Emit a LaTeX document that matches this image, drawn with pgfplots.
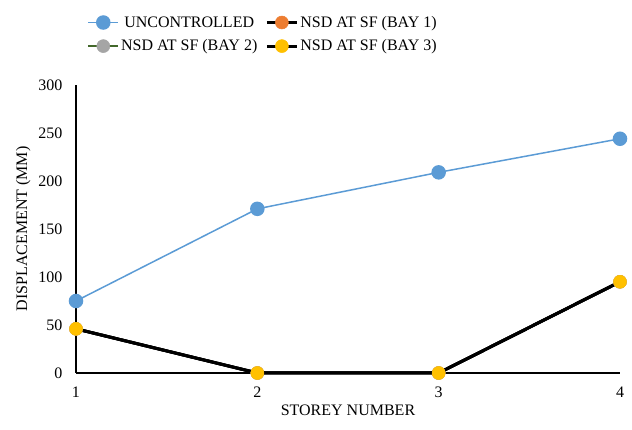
\documentclass[border=0pt]{standalone}
\usepackage{fontspec}
\setmainfont{Liberation Serif}
\usepackage{pgfplots}
\pgfplotsset{compat=1.18}
\definecolor{cblue}{HTML}{5B9BD5}
\definecolor{corange}{HTML}{ED7D31}
\definecolor{cgray}{HTML}{A5A5A5}
\definecolor{cyellow}{HTML}{FFC000}
\definecolor{cgreen}{HTML}{43682B}
\begin{document}
\begin{tikzpicture}
\begin{axis}[
  name=ax,
  scale only axis,
  width=544pt, height=288pt,
  xmin=1, xmax=4, ymin=0, ymax=300,
  xtick={1,2,3,4}, ytick={0,50,...,300},
  axis lines=left,
  axis line style={black, line width=1.6pt, -},
  major tick length=0pt,
  clip=false,
  /pgf/number format/assume math mode=true,
  tick label style={font=\fontsize{16}{18}\selectfont},
  xticklabel style={yshift=-10pt},
  yticklabel style={xshift=-10pt},
  xlabel={STOREY NUMBER},
  ylabel={DISPLACEMENT (MM)},
  label style={font=\fontsize{16}{18}\selectfont},
  xlabel style={yshift=-1pt},
  ylabel style={yshift=1pt},
  legend columns=2,
  legend style={at={(0.344,1.176)}, anchor=center, draw=none,
    font=\fontsize{16}{18}\selectfont, row sep=7pt,
    /tikz/every even column/.append style={column sep=6pt}},
  legend image code/.code={
    \draw[#1,mark=none] (0pt,0pt) -- (30pt,0pt);
    \draw[#1,only marks] plot coordinates {(15pt,0pt)};
  },
]
\addplot[color=cblue, line width=1.5pt, mark=*, mark size=6.5pt,
  mark options={fill=cblue, draw=cblue}] coordinates {
(1,75) (2,171) (3,209) (4,244)
};
\addlegendentry{UNCONTROLLED}
\addplot[color=black, line width=3pt, mark=*, mark size=6.5pt,
  mark options={fill=corange, draw=corange, line width=0.5pt}] coordinates {
(1,46) (2,0) (3,0) (4,95)
};
\addlegendentry{NSD AT SF (BAY 1)}
\addplot[color=black, line width=3pt, mark=*, mark size=6.5pt,
  mark options={fill=cgray, draw=cgray, line width=0.5pt},
  forget plot] coordinates {
(1,46) (2,0) (3,0) (4,95)
};
\addlegendimage{color=cgreen, line width=1.5pt, mark=*, mark size=6.5pt,
  mark options={fill=cgray, draw=cgray, line width=0.5pt}}
\addlegendentry{NSD AT SF (BAY 2)}
\addplot[color=black, line width=3pt, mark=*, mark size=6.5pt,
  mark options={fill=cyellow, draw=cyellow, line width=0.5pt}] coordinates {
(1,46) (2,0) (3,0) (4,95)
};
\addlegendentry{NSD AT SF (BAY 3)}
\end{axis}
\path (ax.south west) ++(-76pt,-57pt) rectangle ++(632pt,430pt);
\end{tikzpicture}
\end{document}
